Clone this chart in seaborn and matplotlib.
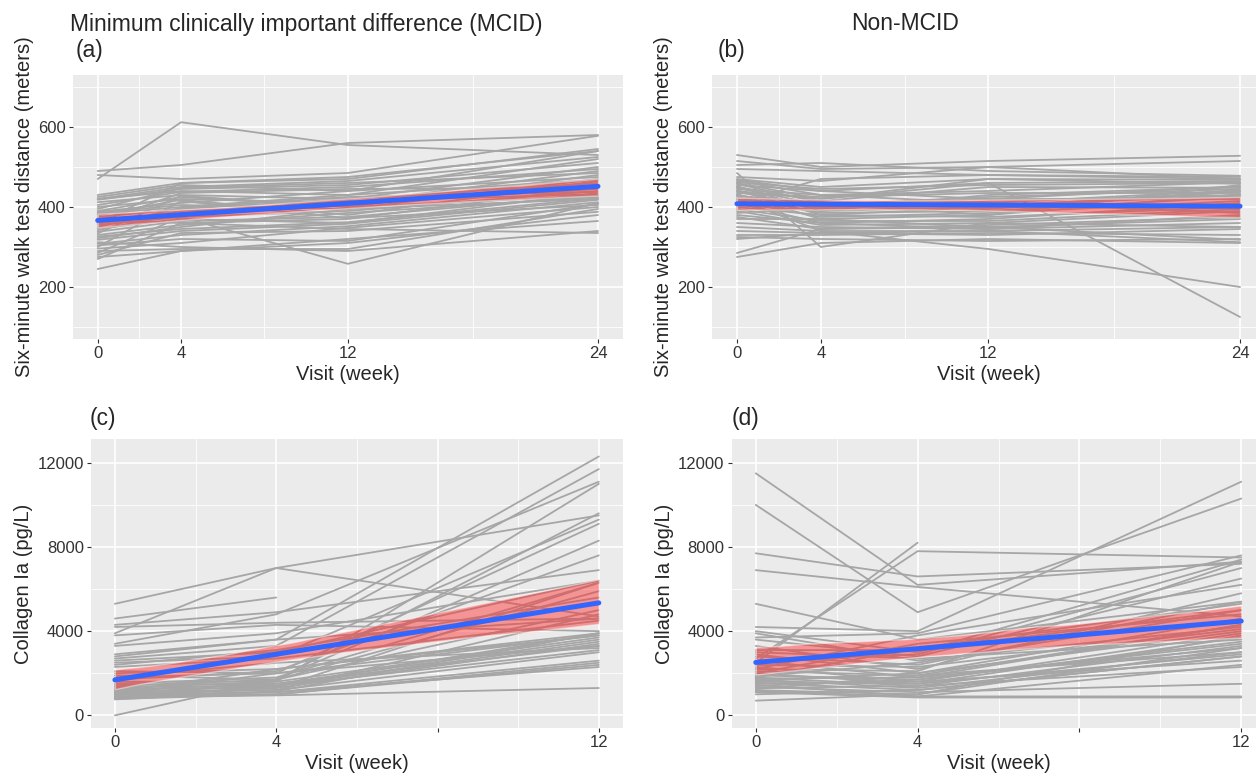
import numpy as np
import pandas as pd
import matplotlib
matplotlib.use('Agg')
import matplotlib.pyplot as plt
import seaborn as sns
from matplotlib.ticker import FixedLocator

nan = np.nan

# six-minute walk test, MCID group (weeks 0, 4, 12, 24)
mcid_walk_w0 = [470, 490, 480, 430, 425, 420, 420, 418, 412, 405, 400, 395, 390, 388, 385,
                382, 380, 375, 370, 366, 362, 358, 355, 350, 346, 342, 338, 334, 330, 326,
                322, 318, 312, 308, 304, 300, 296, 290, 285, 280, 275, 270, 245, 360]
mcid_walk_w4 = [612, 505, 470, 460, 455, 450, 440, 445, 430, 438, 420, 448, 425, 410, 405,
                400, 418, 395, 380, 360, 435, 390, 375, 398, 370, 385, 365, 428, 355, 345,
                350, 340, 300, 330, 320, 415, 310, 295, 375, 335, 290, 360, 290, 460]
mcid_walk_w12 = [555, 560, 485, 470, 440, 465, 430, 455, 420, 450, 410, 460, 400, 440, 395,
                 430, 380, 420, 405, 370, 445, 410, 390, 425, 360, 415, 375, 400, 385, 362,
                 395, 358, 290, 352, 315, 372, 348, 295, 258, 340, 320, 345, 310, 475]
mcid_walk_w24 = [530, 580, 578, 545, 540, 525, 520, 510, 500, 495, 490, 485, 480, 475, 470,
                 468, 465, 460, 455, 450, 448, 445, 440, 438, 435, 432, 430, 428, 425, 422,
                 420, 418, 340, 412, 408, 405, 400, 395, 410, 388, 365, 335, 380, 540]

# six-minute walk test, non-MCID group
non_walk_w0 = [530, 515, 505, 495, 485, 475, 470, 468, 465, 462, 460, 458, 455, 452, 450, 448,
               445, 442, 440, 438, 435, 432, 430, 428, 425, 420, 418, 415, 410, 405, 400, 395,
               390, 385, 380, 375, 370, 360, 350, 340, 330, 325, 320, 285, 275, 410]
non_walk_w4 = [500, 495, 510, 490, 300, 465, 450, 440, 430, 445, 420, 410, 440, 390, 415, 405,
               430, 380, 420, 400, 425, 370, 395, 410, 385, 340, 405, 375, 360, 390, 380, 365,
               355, 400, 360, 345, 370, 350, 340, 335, 330, 320, 335, 345, 310, 470]
non_walk_w12 = [515, 500, 490, 480, 360, 500, 470, 460, 440, 455, 470, 380, 420, 430, 450, 425,
                410, 400, 460, 395, 435, 380, 415, 405, 390, 295, 420, 385, 370, 400, 375, 365,
                360, 410, 345, 355, 350, 345, 340, 330, 335, 315, 340, 350, 320, 480]
non_walk_w24 = [528, 515, 478, 475, 350, 470, 468, 465, 462, 460, 458, 455, 452, 450, 448, 445,
                442, 440, 125, 438, 435, 432, 430, 428, 425, 200, 420, 415, 410, 405, 400, 395,
                390, 385, 380, 375, 370, 360, 350, 345, 330, 320, 312, 318, 310, 470]

# collagen Ia, MCID group (weeks 0, 4, 12)
mcid_coll_w0 = [5300, 4600, 4300, 4200, 3900, 3800, 3400, 3300, 2800, 2700, 2600, 2500, 2400,
                2300, 2100, 2000, 1900, 1800, 1700, 1600, 1500, 1450, 1400, 1350, 1300, 1250,
                1200, 1150, 1100, 1050, 1000, 950, 900, 880, 850, 820, 800, 780, 760, 0, 2900,
                1100, 1800, 1000]
mcid_coll_w4 = [7000, 5600, 4900, 4400, 7000, 4300, 4800, 3900, 3600, 3300, 3000, 2800, 3100,
                2700, 2000, 2200, 1700, 2000, 2100, 1600, 1800, 1500, 1700, 1400, 1600, 1300,
                1500, 1200, 1400, 1200, 1100, 1300, 1000, 1100, 950, 1700, 1400, 1000, 1150,
                1700, 3600, 2200, 2500, 2000]
mcid_coll_w12 = [9500, nan, 6900, 4600, 4700, 4000, 11100, 6400, 12300, 11700, 6400, 9300, 5600,
                 4500, 9100, 3900, 8300, 3800, 7600, 3700, 6300, 3600, 5900, 3500, 11000, 3400,
                 3300, 4800, 3100, 3000, 2600, 6300, 2500, 2300, 1300, 5000, 3900, 2400, 3900,
                 9600, 4600, 3800, 3200, 3300]

# collagen Ia, non-MCID group
non_coll_w0 = [11500, 10000, 7700, 6900, 5300, 2500, 2700, 4200, 4000, 3900, 3700, 3600, 3300,
               3100, 2900, 2800, 2600, 2400, 2300, 2200, 2100, 2000, 1900, 1850, 1800, 1750,
               1700, 1650, 1600, 1550, 1500, 1450, 1400, 1350, 1300, 1200, 1100, 1000, 700,
               1800, 2000, 2600, 1250, 3000, 1150, 2200]
non_coll_w4 = [6200, 4900, 6600, 6100, 3600, 8200, 7800, 4000, 3000, 2600, 3900, 2800, 2200,
               3100, 2000, 2400, 1800, 2300, 1600, 2100, 1900, 1500, 1700, 2500, 1400, 1800,
               1300, 2000, 1500, 1200, 1600, 900, 1700, 1100, 1400, 1000, 850, 1200, 1000,
               3200, 3400, 2900, 1900, 2700, 900, 3800]
non_coll_w12 = [7300, 10300, 7200, 4700, 5400, nan, 7500, 11100, 7400, 4200, 7600, 6500, 5800,
                5000, 4600, 5400, 4300, 4100, 3900, 7300, 4300, 3700, 3500, 5000, 3300, 3200,
                3000, 4000, 2900, 2800, 2600, 2400, 3400, 1500, 2300, 3200, 850, 2800, 3800,
                5300, 4800, 7000, 3000, 3600, 900, 6200]


def to_long(weeks, columns):
    rows = []
    for week, values in zip(weeks, columns):
        for sid, v in enumerate(values):
            rows.append({'subject': sid, 'week': week, 'value': v})
    return pd.DataFrame(rows)


walk_mcid = to_long([0, 4, 12, 24], [mcid_walk_w0, mcid_walk_w4, mcid_walk_w12, mcid_walk_w24])
walk_non = to_long([0, 4, 12, 24], [non_walk_w0, non_walk_w4, non_walk_w12, non_walk_w24])
coll_mcid = to_long([0, 4, 12], [mcid_coll_w0, mcid_coll_w4, mcid_coll_w12])
coll_non = to_long([0, 4, 12], [non_coll_w0, non_coll_w4, non_coll_w12])

sns.set_theme(style='darkgrid')
plt.rcParams['font.family'] = ['Liberation Sans', 'DejaVu Sans']
plt.rcParams['axes.facecolor'] = '#EBEBEB'

W, H = 1256, 776
fig = plt.figure(figsize=(W / 100, H / 100), dpi=100)


def px_axes(left, right, top, bottom):
    return fig.add_axes([left / W, 1 - bottom / H, (right - left) / W, (bottom - top) / H])


ax_a = px_axes(72.7, 623, 75, 339)
ax_b = px_axes(711.8, 1265.2, 75, 339)
ax_c = px_axes(90.7, 623, 439, 728)
ax_d = px_axes(731.5, 1265.5, 439, 728)


def draw(ax, df, ylabel, xmaj, xlab, xmin, ymaj, ymin, xlim, ylim):
    sns.lineplot(data=df, x='week', y='value', units='subject', estimator=None,
                 color='#A6A6A6', lw=1.3, ax=ax)
    sns.regplot(data=df, x='week', y='value', scatter=False, ci=99, seed=3,
                color='#3366FF', line_kws={'lw': 3.6, 'zorder': 4}, ax=ax)
    # red confidence band over the subject lines, under the blue fit
    band = ax.collections[-1]
    band.set_facecolor('#FF2A2A')
    band.set_alpha(0.45)
    band.set_zorder(3)
    ax.set_xlim(*xlim)
    ax.set_ylim(*ylim)
    ax.xaxis.set_major_locator(FixedLocator(xmaj))
    ax.set_xticklabels(xlab)
    ax.xaxis.set_minor_locator(FixedLocator(xmin))
    ax.yaxis.set_major_locator(FixedLocator(ymaj))
    ax.yaxis.set_minor_locator(FixedLocator(ymin))
    ax.grid(which='major', color='white', lw=1.2)
    ax.grid(which='minor', color='white', lw=0.6)
    ax.tick_params(which='major', bottom=True, left=True, length=3, width=0.8,
                   color='#333333', labelsize=12, labelcolor='#333333', pad=2)
    ax.tick_params(which='minor', bottom=False, left=False)
    ax.set_xlabel('Visit (week)', fontsize=14.5, labelpad=3)
    ax.set_ylabel(ylabel, fontsize=14.5, labelpad=3)
    for s in ax.spines.values():
        s.set_visible(False)


walk_lab = 'Six-minute walk test distance (meters)'
coll_lab = 'Collagen Ia (pg/L)'
for ax, df in [(ax_a, walk_mcid), (ax_b, walk_non)]:
    draw(ax, df, walk_lab, [0, 4, 12, 24], ['0', '4', '12', '24'], [2, 8, 18],
         [200, 400, 600], [100, 300, 500, 700], (-1.2, 25.2), (70, 730))
for ax, df in [(ax_c, coll_mcid), (ax_d, coll_non)]:
    draw(ax, df, coll_lab, [0, 4, 8, 12], ['0', '4', '', '12'], [2, 6, 10],
         [0, 4000, 8000, 12000], [2000, 6000, 10000], (-0.6, 12.6), (-600, 13130))

fs = 16.5
fig.text(70 / W, 1 - 24 / H, 'Minimum clinically important difference (MCID)',
         fontsize=fs, ha='left', va='center')
fig.text(76 / W, 1 - 51 / H, '(a)', fontsize=fs, ha='left', va='center')
fig.text(905 / W, 1 - 24 / H, 'Non-MCID', fontsize=fs, ha='center', va='center')
fig.text(718 / W, 1 - 51 / H, '(b)', fontsize=fs, ha='left', va='center')
fig.text(90 / W, 1 - 418 / H, '(c)', fontsize=fs, ha='left', va='center')
fig.text(732 / W, 1 - 418 / H, '(d)', fontsize=fs, ha='left', va='center')

fig.savefig('out.png', dpi=100)
